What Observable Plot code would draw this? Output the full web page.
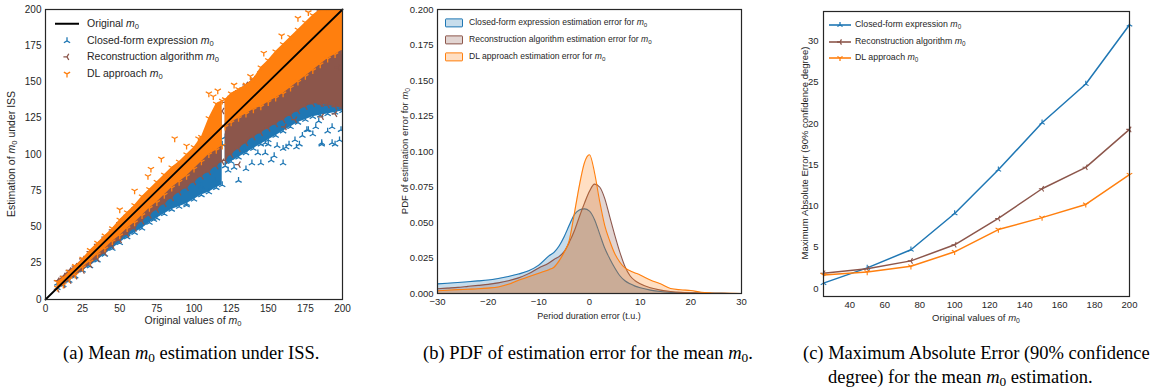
<!DOCTYPE html>
<html><head><meta charset="utf-8">
<script src="https://cdn.jsdelivr.net/npm/d3@7"></script>
<script src="https://cdn.jsdelivr.net/npm/@observablehq/plot@0.6"></script>
<style>
body{margin:0;background:#fff;}
#root{position:relative;width:1163px;height:388px;overflow:hidden;background:#fff;font-family:"Liberation Sans",Arial,sans-serif;color:#262626;}
.panel{position:absolute;top:0;}
.lbl{position:absolute;white-space:nowrap;transform:translate(-50%,-50%);line-height:1;}
.rot{transform:translate(-50%,-50%) rotate(-90deg);}
.leg{position:absolute;white-space:nowrap;line-height:1;transform:translateY(-50%);}
.cap{position:absolute;white-space:nowrap;font-family:"Liberation Serif","Times New Roman",serif;font-size:18.5px;color:#000;line-height:1;transform:translateY(-50%);}
sub{font-size:0.72em;vertical-align:-0.25em;line-height:0;}
i{font-style:italic;}
</style></head><body><div id="root"></div>
<script>
// ---------------- colours ----------------
const BLUE = "#1f77b4", BROWN = "#8c564b", ORANGE = "#ff7f0e";

// ---------------- panel (a): mean m0 estimation (scatter cloud envelopes + outliers) ----------------
const aTicks = [0, 25, 50, 75, 100, 125, 150, 175, 200];
const identityEnds = [0, 200];
// cloud x grid (segment 1: below 120, segment 2: above 120)
const aX1 = [8, 12, 16, 20, 25, 30, 35, 40, 45, 50, 55, 60, 65, 70, 75, 80, 85, 90, 95, 100, 105, 110, 115, 119];
const aX2 = [121, 125, 130, 135, 140, 145, 150, 155, 160, 165, 170, 175, 180, 185, 190, 195, 200];
// closed-form expression (blue)
const blueLo1 = [8, 10, 13, 16, 20, 23, 27, 31, 35, 39, 43, 46, 49, 53, 56, 59, 62, 64, 66, 69, 72, 74, 77, 79];
const blueHi1 = [11, 14, 17, 20, 25, 30, 35, 39, 44, 48, 53, 57, 62, 66, 71, 75, 80, 84, 88, 92, 96, 100, 104, 107];
const blueLo2 = [92, 95, 98, 101, 104, 107, 110, 113, 116, 119, 122, 124, 126, 127, 128, 129, 130];
const blueHi2 = [112, 116, 120, 124, 128, 131, 134, 137, 140, 143, 146, 149, 152, 155, 158, 160, 162];
const blueOutX = [37, 55, 73, 87, 95, 105, 114, 123, 125, 127, 130, 134, 135, 139, 143, 145, 148, 148, 150, 152, 154, 156, 160, 160, 162, 164, 168, 169, 171, 173, 176, 177, 180, 182, 184, 186, 186, 190, 193, 193, 195, 198, 199];
const blueOutY = [32, 45, 55, 68, 65, 78, 82, 89, 98, 91, 82, 103, 90, 94, 101, 94, 101, 108, 107, 96, 99, 106, 94, 104, 105, 107, 110, 105, 107, 113, 117, 117, 114, 119, 123, 107, 108, 116, 119, 108, 107, 110, 117];
// reconstruction algorithm (brown)
const brownLo1 = [7, 10, 13, 16, 20, 24, 28, 32, 37, 41, 45, 49, 54, 58, 62, 66, 70, 74, 77, 81, 85, 88, 92, 95];
const brownHi1 = [13, 16, 20, 23, 28, 33, 38, 43, 48, 53, 58, 63, 68, 73, 78, 83, 88, 93, 97, 101, 106, 115, 125, 130];
const brownLo2 = [96, 100, 104, 108, 112, 115, 118, 121, 124, 127, 130, 133, 135, 135, 134, 133, 132];
const brownHi2 = [136, 140, 144, 148, 152, 157, 162, 167, 172, 177, 182, 187, 193, 199, 200, 200, 200];
const brownOutX = [12, 15, 130, 161, 168, 186, 186, 195, 197];
const brownOutY = [14, 18, 93, 119, 124, 126, 135, 128, 160];
// DL approach (orange)
const orangeLo1 = [8, 10, 14, 17, 22, 26, 31, 35, 40, 44, 49, 53, 58, 63, 67, 72, 77, 81, 85, 90, 95, 100, 103, 106];
const orangeHi1 = [12, 15, 19, 23, 28, 34, 39, 44, 49, 55, 60, 65, 71, 76, 81, 86, 91, 95, 100, 105, 112, 125, 135, 137];
const orangeLo2 = [119, 122, 125, 128, 131, 133, 136, 139, 142, 146, 150, 154, 158, 162, 166, 169, 172];
const orangeHi2 = [138, 142, 145, 148, 152, 160, 165, 171, 176, 181, 186, 191, 196, 200, 200, 200, 200];
const orangeOutX = [50, 60, 69, 71, 78, 87, 95, 103, 110, 113, 116, 127, 138, 147, 159, 170, 177];
const orangeOutY = [62, 75, 85, 90, 97, 111, 106, 111, 142, 140, 144, 148, 154, 170, 182, 194, 198];

// ---------------- panel (b): PDF of estimation error ----------------
const bTicksX = [-30, -20, -10, 0, 10, 20, 30];
const bTicksY = [0, 0.025, 0.05, 0.075, 0.1, 0.125, 0.15, 0.175, 0.2];
const bErr = [-30, -28, -26, -24, -22, -20, -18, -16, -14, -12, -10, -8, -7, -6, -5, -4, -3, -2, -1, 0, 1, 2, 3, 4, 5, 6, 7, 8, 9, 10, 12, 14, 16, 18, 20, 22, 24, 26, 28, 30];
const pdfClosed = [.0068, .0072, .0077, .0083, .0089, .0095, .0106, .0120, .0137, .0160, .0200, .0265, .0290, .0335, .0400, .0480, .0555, .0588, .0596, .0580, .0520, .0420, .0320, .0245, .0180, .0125, .0090, .0068, .0052, .0040, .0024, .0014, .0008, .0005, .0003, .0002, .0001, .0001, 0, 0];
const pdfRecon = [.0033, .0038, .0043, .0050, .0057, .0064, .0075, .0090, .0110, .0140, .0180, .0215, .0240, .0260, .0295, .0360, .0440, .0540, .0635, .0720, .0770, .0750, .0670, .0540, .0410, .0290, .0190, .0125, .0090, .0068, .0040, .0024, .0014, .0008, .0005, .0003, .0002, .0001, 0, 0];
const pdfDL = [.0019, .0023, .0027, .0030, .0033, .0038, .0046, .0065, .0093, .0118, .0143, .0168, .0185, .0230, .0290, .0373, .0561, .0760, .0920, .0977, .0850, .0650, .0480, .0370, .0280, .0220, .0180, .0160, .0145, .0130, .0095, .0068, .0035, .0026, .0021, .0009, .0004, .0002, .0001, 0];

// ---------------- panel (c): maximum absolute error ----------------
const cM0 = [25, 50, 75, 100, 125, 150, 175, 200];
const cTicksX = [40, 60, 80, 100, 120, 140, 160, 180, 200];
const cTicksY = [0, 5, 10, 15, 20, 25, 30];
const maeClosed = [0.65, 2.5, 4.7, 9.1, 14.4, 20.1, 24.8, 32.0];
const maeRecon = [1.85, 2.4, 3.35, 5.3, 8.5, 12.1, 14.7, 19.3];
const maeDL = [1.65, 2.0, 2.7, 4.45, 7.15, 8.6, 10.2, 13.8];

// ---------------- helpers ----------------
const tri = { // matplotlib-like tri marker (arm pointing down); rotate for other orientations
  draw(ctx, size) {
    const r = Math.sqrt(size / Math.PI), s = r * Math.sqrt(3) / 2;
    ctx.moveTo(0, 0); ctx.lineTo(0, r);
    ctx.moveTo(0, 0); ctx.lineTo(-s, -r / 2);
    ctx.moveTo(0, 0); ctx.lineTo(s, -r / 2);
  }
};
const ROT = {blue: 180, brown: 90, orange: 0};
const M0 = '<i>m</i><sub>0</sub>';
const root = document.getElementById("root");
function add(html, cls, x, y, style) {
  const d = document.createElement("div");
  d.className = cls; d.innerHTML = html;
  d.style.left = x + "px"; d.style.top = y + "px";
  if (style) Object.assign(d.style, style);
  root.appendChild(d); return d;
}
function triSvg(color, rot, r, lineColor) {
  const p = d3.path(); tri.draw(p, Math.PI * r * r);
  const line = lineColor ? `<line x1="-11" x2="11" y1="0" y2="0" stroke="${lineColor}" stroke-width="1.6"/>` : "";
  return `<svg width="24" height="12" viewBox="-12 -6 24 12" style="vertical-align:middle;overflow:visible">${line}<path d="${p}" transform="rotate(${rot})" fill="none" stroke="${color}" stroke-width="1.3"/></svg>`;
}
function rows(xs1, lo1, hi1, xs2, lo2, hi2) {
  return [...xs1.map((x, i) => ({x, lo: lo1[i], hi: hi1[i], seg: 1})),
          ...xs2.map((x, i) => ({x, lo: lo2[i], hi: hi2[i], seg: 2}))];
}
const pts = (xs, ys) => xs.map((x, i) => ({x, y: ys[i]}));
const baseStyle = {fontFamily: "'Liberation Sans', Arial, sans-serif", color: "#262626", background: "transparent", overflow: "visible"};

function cloudMarks(data, out, color, rot) {
  const dotOpt = {symbol: tri, rotate: rot, r: 3.6, stroke: color, fill: "none", strokeWidth: 1.3, clip: true};
  return [
    Plot.areaY(data, {x: "x", y1: "lo", y2: "hi", z: "seg", fill: color, clip: true}),
    Plot.dot(data, {x: "x", y: "lo", ...dotOpt}),
    Plot.dot(data, {x: "x", y: "hi", ...dotOpt}),
    Plot.dot(out, {x: "x", y: "y", ...dotOpt})
  ];
}

// ---------------- panel (a) ----------------
const blueRows = rows(aX1, blueLo1, blueHi1, aX2, blueLo2, blueHi2);
const brownRows = rows(aX1, brownLo1, brownHi1, aX2, brownLo2, brownHi2);
const orangeRows = rows(aX1, orangeLo1, orangeHi1, aX2, orangeLo2, orangeHi2);
const plotA = Plot.plot({
  width: 360, height: 330, marginLeft: 45, marginRight: 18, marginTop: 9, marginBottom: 31,
  style: {...baseStyle, fontSize: "10px"},
  x: {domain: [0, 200], ticks: aTicks, tickSize: 0, tickPadding: 5, label: null},
  y: {domain: [0, 200], ticks: aTicks, tickSize: 0, tickPadding: 4, label: null},
  marks: [
    ...cloudMarks(blueRows, pts(blueOutX, blueOutY), BLUE, ROT.blue),
    ...cloudMarks(brownRows, pts(brownOutX, brownOutY), BROWN, ROT.brown),
    ...cloudMarks(orangeRows, pts(orangeOutX, orangeOutY), ORANGE, ROT.orange),
    Plot.line(identityEnds, {x: d => d, y: d => d, stroke: "#000", strokeWidth: 1.8}),
    Plot.frame({stroke: "#262626", strokeWidth: 1.2})
  ]
});
const pa = document.createElement("div"); pa.className = "panel"; pa.style.left = "0px"; pa.appendChild(plotA); root.appendChild(pa);

// ---------------- panel (b) ----------------
const bRows = [
  ...bErr.map((e, i) => ({e, p: pdfClosed[i], s: "closed"})),
  ...bErr.map((e, i) => ({e, p: pdfRecon[i], s: "recon"})),
  ...bErr.map((e, i) => ({e, p: pdfDL[i], s: "dl"}))
];
const bColor = {closed: BLUE, recon: BROWN, dl: ORANGE};
const bMarks = [];
for (const s of ["closed", "recon", "dl"]) {
  const d = bRows.filter(r => r.s === s);
  bMarks.push(Plot.areaY(d, {x: "e", y: "p", fill: bColor[s], fillOpacity: 0.25, curve: "monotone-x"}));
  bMarks.push(Plot.line(d, {x: "e", y: "p", stroke: bColor[s], strokeWidth: 1.1, curve: "monotone-x"}));
}
const plotB = Plot.plot({
  width: 380, height: 330, marginLeft: 57, marginRight: 19, marginTop: 9, marginBottom: 37,
  style: {...baseStyle, fontSize: "9.5px"},
  x: {domain: [-30, 30], ticks: bTicksX, tickSize: 0, tickPadding: 5, label: null},
  y: {domain: [0, 0.2], ticks: bTicksY, tickFormat: ".3f", tickSize: 0, tickPadding: 4, label: null},
  marks: [...bMarks, Plot.frame({stroke: "#262626", strokeWidth: 1.2})]
});
const pb = document.createElement("div"); pb.className = "panel"; pb.style.left = "380px"; pb.appendChild(plotB); root.appendChild(pb);

// ---------------- panel (c) ----------------
const cRows = [
  ...cM0.map((m, i) => ({m, v: maeClosed[i], s: "closed"})),
  ...cM0.map((m, i) => ({m, v: maeRecon[i], s: "recon"})),
  ...cM0.map((m, i) => ({m, v: maeDL[i], s: "dl"}))
];
const cRot = {closed: ROT.blue, recon: ROT.brown, dl: ROT.orange};
const cMarks = [];
for (const s of ["closed", "recon", "dl"]) {
  const d = cRows.filter(r => r.s === s);
  cMarks.push(Plot.line(d, {x: "m", y: "v", stroke: bColor[s], strokeWidth: 1.5}));
  cMarks.push(Plot.dot(d, {x: "m", y: "v", symbol: tri, rotate: cRot[s], r: 3.2, stroke: bColor[s], fill: "none", strokeWidth: 1.1}));
}
const plotC = Plot.plot({
  width: 383, height: 330, marginLeft: 43, marginRight: 34, marginTop: 11, marginBottom: 34,
  style: {...baseStyle, fontSize: "9.5px"},
  x: {domain: [25, 200], ticks: cTicksX, tickSize: 0, tickPadding: 5, label: null},
  y: {domain: [-0.97, 33.6], ticks: cTicksY, tickSize: 0, tickPadding: 5, label: null},
  marks: [...cMarks, Plot.frame({stroke: "#262626", strokeWidth: 1.2})]
});
const pc = document.createElement("div"); pc.className = "panel"; pc.style.left = "780px"; pc.appendChild(plotC); root.appendChild(pc);

// ---------------- axis labels ----------------
add(`Original values of ${M0}`, "lbl", 193, 320, {fontSize: "10.5px"});
add(`Estimation of ${M0} under ISS`, "lbl rot", 11, 154, {fontSize: "10.5px"});
add(`Period duration error (t.u.)`, "lbl", 589, 316, {fontSize: "9px"});
add(`PDF of estimation error for ${M0}`, "lbl rot", 405, 151, {fontSize: "9.5px"});
add(`Original values of ${M0}`, "lbl", 976, 318, {fontSize: "9.5px"});
add(`Maximum Absolute Error (90% confidence degree)`, "lbl rot", 805, 153, {fontSize: "9.5px"});

// ---------------- legends ----------------
// (a)
add(`<svg width="24" height="4" style="vertical-align:middle"><line x1="0" x2="24" y1="2" y2="2" stroke="#000" stroke-width="1.8"/></svg><span style="margin-left:8px">Original ${M0}</span>`, "leg", 55, 23, {fontSize: "10.5px"});
add(`${triSvg(BLUE, ROT.blue, 3.6)}<span style="margin-left:8px">Closed-form expression ${M0}</span>`, "leg", 55, 41, {fontSize: "10.5px"});
add(`${triSvg(BROWN, ROT.brown, 3.6)}<span style="margin-left:8px">Reconstruction algorithm ${M0}</span>`, "leg", 55, 57, {fontSize: "10.5px"});
add(`${triSvg(ORANGE, ROT.orange, 3.6)}<span style="margin-left:8px">DL approach ${M0}</span>`, "leg", 55, 74, {fontSize: "10.5px"});
// (b)
const sw = c => `<span style="display:inline-block;width:16px;height:7px;border:1.2px solid ${c};background:${c}40;border-radius:1px;vertical-align:middle"></span>`;
add(`${sw(BLUE)}<span style="margin-left:6px">Closed-form expression estimation error for ${M0}</span>`, "leg", 445, 23, {fontSize: "8.6px"});
add(`${sw(BROWN)}<span style="margin-left:6px">Reconstruction algorithm estimation error for ${M0}</span>`, "leg", 445, 40, {fontSize: "8.6px"});
add(`${sw(ORANGE)}<span style="margin-left:6px">DL approach estimation error for ${M0}</span>`, "leg", 445, 57, {fontSize: "8.6px"});
// (c)
add(`${triSvg(BLUE, ROT.blue, 3, BLUE)}<span style="margin-left:3px">Closed-form expression ${M0}</span>`, "leg", 828, 25, {fontSize: "8.8px"});
add(`${triSvg(BROWN, ROT.brown, 3, BROWN)}<span style="margin-left:3px">Reconstruction algorithm ${M0}</span>`, "leg", 828, 42, {fontSize: "8.8px"});
add(`${triSvg(ORANGE, ROT.orange, 3, ORANGE)}<span style="margin-left:3px">DL approach ${M0}</span>`, "leg", 828, 58, {fontSize: "8.8px"});

// ---------------- captions ----------------
add(`(a) Mean ${M0} estimation under ISS.`, "cap", 63, 353);
add(`(b) PDF of estimation error for the mean ${M0}.`, "cap", 423, 353);
add(`(c) Maximum Absolute Error (90% confidence`, "cap", 803, 353);
add(`degree) for the mean ${M0} estimation.`, "cap", 828, 377);
</script></body></html>
